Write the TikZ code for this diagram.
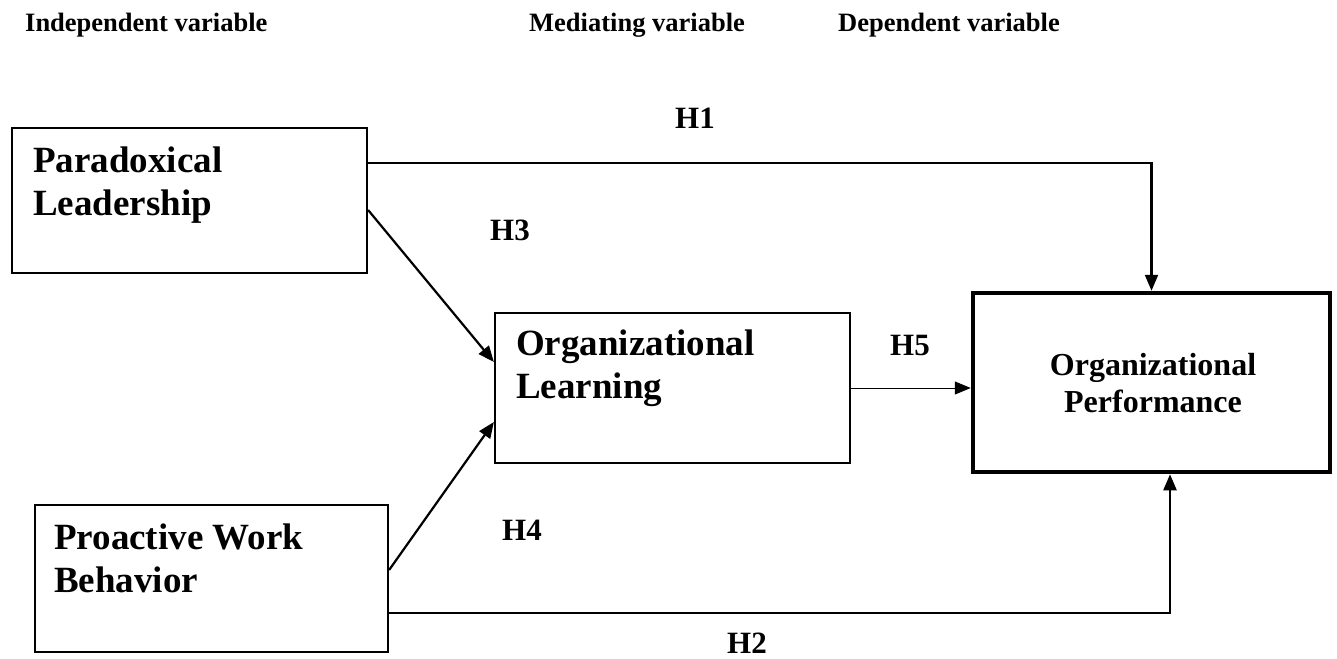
\documentclass[tikz,border=0pt]{standalone}
\usepackage{fontspec}
\setmainfont{Liberation Serif}
\usetikzlibrary{arrows.meta,positioning}

\tikzset{
  varbox/.style={draw,line width=2.2pt,inner sep=0pt},
  boxtext/.style={anchor=base west,inner sep=0pt,align=left,font=\fontsize{37}{43}\selectfont\bfseries},
  headtext/.style={anchor=base west,inner sep=0pt,font=\fontsize{26.5}{30}\selectfont\bfseries},
  hlabel/.style={inner sep=0pt,font=\fontsize{31}{36}\selectfont\bfseries},
  link/.style={line width=2.2pt,-{Triangle[length=16pt,width=13pt]}}
}

\begin{document}
\begin{tikzpicture}[x=1pt,y=-1pt]
\useasboundingbox (0,0) rectangle (1337,658);

% column heads
\node[headtext] (indep) at (25,32) {Independent variable};
\node[headtext] (medi) at (529,32) {Mediating variable};
\node[headtext] (dep) at (838,32) {Dependent variable};

% variables
\node[varbox,minimum width=355pt,minimum height=145pt] (pl) at (189.5,200.5) {};
\node[boxtext] (pltxt) at (33,215) {Paradoxical\\Leadership};

\node[varbox,minimum width=355pt,minimum height=150pt] (ol) at (672.5,388) {};
\node[boxtext] (oltxt) at (516,398) {Organizational\\Learning};

\node[varbox,minimum width=353pt,minimum height=147pt] (pwb) at (211.5,578.5) {};
\node[boxtext] (pwbtxt) at (54,592) {Proactive Work\\Behavior};

\node[varbox,line width=4.5pt,minimum width=357pt,minimum height=179pt] (op) at (1151.5,382.5) {};
\node[inner sep=0pt,anchor=base,align=center,font=\fontsize{32}{37}\selectfont\bfseries] (optxt) at (1153,412) {Organizational\\Performance};

% paths
\draw[link] ([yshift=37.5pt]pl.east) -| (op.north);
\draw[link] ([yshift=-9.5pt]pl.east) -- ([yshift=26pt]ol.west);
\draw[link] ([yshift=8.5pt]pwb.east) -- ([yshift=-34pt]ol.west);
\draw[link] ([yshift=-34.5pt]pwb.east) -| ([xshift=18.5pt]op.south);
\draw[link,line width=1pt] (ol.east) -- (ol.east -| op.west);

\node[hlabel] (h1) at (695,118) {H1};
\node[hlabel] (h3) at (510,230) {H3};
\node[hlabel] (h5) at (910,345) {H5};
\node[hlabel] (h4) at (522,530) {H4};
\node[hlabel] (h2) at (747,643) {H2};

\end{tikzpicture}
\end{document}
